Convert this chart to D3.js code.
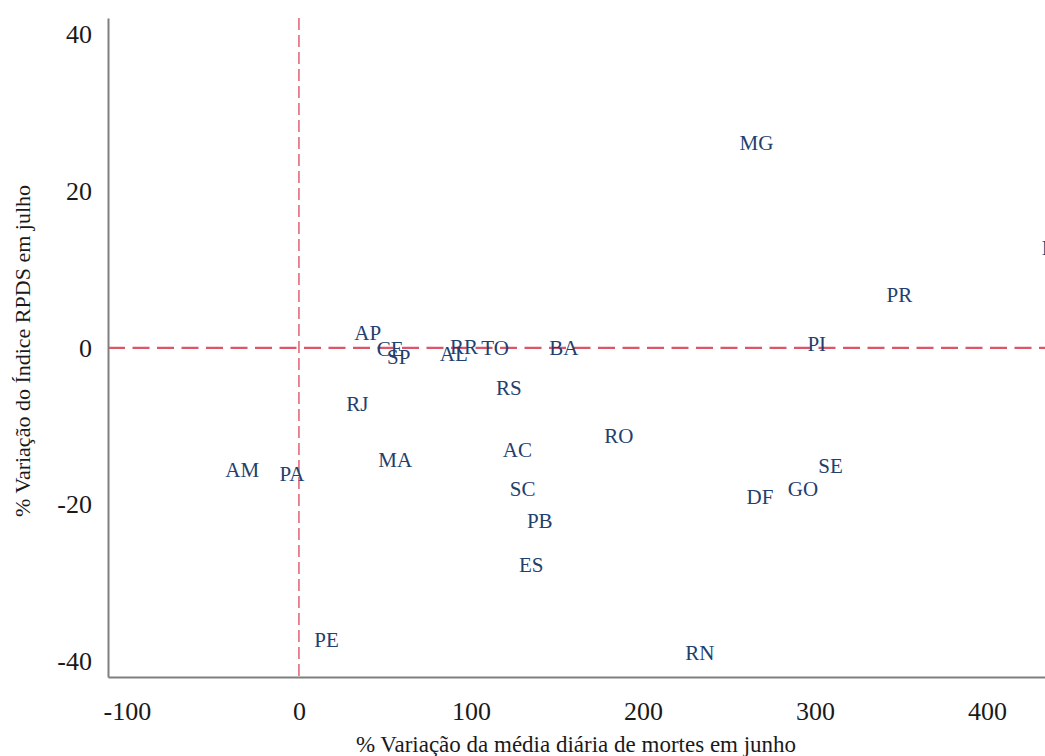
<!DOCTYPE html>
<html>
<head>
<meta charset="utf-8">
<script src="https://cdn.jsdelivr.net/npm/d3@7"></script>
<style>
  body { margin: 0; background: #fff; }
  text { font-family: "Liberation Serif", "Times New Roman", serif; }
</style>
</head>
<body>
<div id="chart-area"></div>
<script>
// state codes and their values
let states = ["MG", "PR", "PI", "AP", "CE", "SP", "AL", "RR", "TO", "BA", "RS", "RJ", "RO",
    "AC", "MA", "AM", "PA", "SE", "GO", "DF", "SC", "PB", "ES", "PE", "RN", "MT"];
// % variação da média diária de mortes em junho
let mortes = [266, 349, 301, 40, 53, 58, 90, 96, 114, 154, 122, 34, 186,
    127, 56, -33, -4, 309, 293, 268, 130, 140, 135, 16, 233, 441];
// % variação do índice RPDS em julho
let rpds = [26.2, 6.8, 0.5, 1.9, -0.1, -1.1, -0.8, 0.1, 0, 0, -5.1, -7.2, -11.2,
    -13.0, -14.3, -15.6, -16.1, -15.1, -18.0, -19.0, -18.0, -22.1, -27.7, -37.3, -39.0, 12.8];
let xTicks = [-100, 0, 100, 200, 300, 400];
let yTicks = [-40, -20, 0, 20, 40];

let W = 1045, H = 756;
let margin = {top: 18, right: 0, bottom: 79, left: 108};

let svg = d3.select("#chart-area")
    .append("svg")
    .attr("width", W)
    .attr("height", H);

let x = d3.scaleLinear()
    .domain([-111, 433.7])
    .range([margin.left, W - margin.right]);

let y = d3.scaleLinear()
    .domain([-42, 42.1])
    .range([H - margin.bottom, margin.top]);

// reference lines at zero
svg.append("line")
    .attr("x1", x(0)).attr("x2", x(0))
    .attr("y1", margin.top).attr("y2", H - margin.bottom)
    .style("stroke", "#dc5668")
    .style("stroke-width", 1.4)
    .style("stroke-dasharray", "12,5");

svg.append("line")
    .attr("x1", margin.left).attr("x2", W)
    .attr("y1", y(0)).attr("y2", y(0))
    .style("stroke", "#dc5668")
    .style("stroke-width", 2.2)
    .style("stroke-dasharray", "17,7.5");

// axes: plain lines, no tick marks, hyphen minus like the original
let xAxis = svg.append("g")
    .attr("transform", "translate(0," + (H - margin.bottom) + ")")
    .call(d3.axisBottom(x).tickValues(xTicks).tickSize(0).tickPadding(25).tickFormat(d => String(d)));
let yAxis = svg.append("g")
    .attr("transform", "translate(" + margin.left + ",0)")
    .call(d3.axisLeft(y).tickValues(yTicks).tickSize(0).tickPadding(16).tickFormat(d => String(d)));

[xAxis, yAxis].forEach(a => {
    a.select(".domain").style("stroke", "#7f7f7f").style("stroke-width", 2);
    a.selectAll(".tick text")
        .style("font-family", "'Liberation Serif', serif")
        .style("font-size", "26px")
        .style("fill", "#1a1a1a");
});

// state labels (the marks are the text itself)
svg.selectAll("text.state")
    .data(states)
    .enter()
    .append("text")
    .attr("class", "state")
    .attr("x", (d, i) => x(mortes[i]))
    .attr("y", (d, i) => y(rpds[i]))
    .attr("text-anchor", "middle")
    .attr("dominant-baseline", "central")
    .style("font-size", "21px")
    .style("fill", "#22406e")
    .text(d => d);

// axis titles
svg.append("text")
    .attr("x", 576)
    .attr("y", 752)
    .attr("text-anchor", "middle")
    .style("font-size", "23px")
    .style("fill", "#1a1a1a")
    .text("% Variação da média diária de mortes em junho");

svg.append("text")
    .attr("transform", "translate(22,351) rotate(-90)")
    .attr("text-anchor", "middle")
    .attr("dominant-baseline", "central")
    .style("font-size", "22px")
    .style("fill", "#1a1a1a")
    .text("% Variação do Índice RPDS em julho");
</script>
</body>
</html>
